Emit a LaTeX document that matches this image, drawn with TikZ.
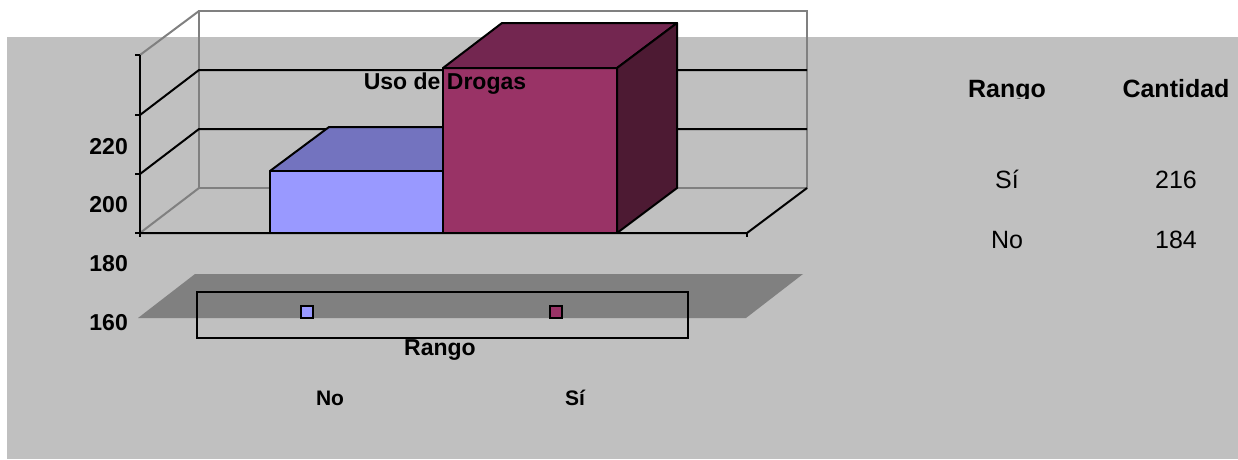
\documentclass[tikz,border=0pt]{standalone}
\usepackage{fontspec}
\setmainfont{Liberation Sans}
\definecolor{bggray}{HTML}{C0C0C0}
\definecolor{wallgray}{HTML}{808080}
\definecolor{shadegray}{HTML}{808080}
\definecolor{bluefront}{HTML}{9999FF}
\definecolor{bluetop}{HTML}{7373BF}
\definecolor{magfront}{HTML}{993366}
\definecolor{magtop}{HTML}{732650}
\definecolor{magside}{HTML}{4D1A33}
\begin{document}
\begin{tikzpicture}[x=1pt,y=-1pt,
  axisline/.style={draw=black,line width=2pt,line join=round},
  wallline/.style={draw=wallgray,line width=2pt},
  face/.style={draw=black,line width=2pt,line join=round},
  boldlbl/.style={font=\fontsize{23}{23}\selectfont\bfseries,inner sep=0pt,anchor=base},
  smalllbl/.style={font=\fontsize{21}{21}\selectfont\bfseries,inner sep=0pt,anchor=base},
  tabhead/.style={font=\fontsize{25}{25}\selectfont\bfseries,inner sep=0pt,anchor=base},
  tabcell/.style={font=\fontsize{25}{25}\selectfont,inner sep=0pt,anchor=base},
  marker/.style={draw=black,line width=1.5pt,minimum width=12pt,minimum height=12pt,inner sep=0pt}]
\useasboundingbox (0,0) rectangle (1238,459);
% background
\fill[bggray] (7,37) rectangle (1238,459);
% back wall and left wall
\draw[wallline] (199,11) rectangle (807,188);
\draw[wallline] (199,11) -- (140,55);
\draw[wallline] (199,188) -- (140,233);
% gridlines
\draw[axisline] (140,115) -- (199,70) -- (807,70);
\draw[axisline] (140,174) -- (199,129) -- (807,129);
% value axis with ticks
\draw[axisline] (140,55) -- (140,237);
\foreach \ty in {55,115,174,233} \draw[axisline] (135,\ty) -- (140,\ty);
% floor
\draw[axisline] (140,233) -- (747,233) -- (807,188);
\draw[axisline] (747,233) -- (747,237);
% blue bar (No)
\draw[face,fill=bluetop] (270,171) -- (329,127) -- (502,127) -- (443,171) -- cycle;
\draw[face,fill=bluefront] (270,171) rectangle (443,233);
% magenta bar (Si)
\draw[face,fill=magfront] (443,68) rectangle (617,233);
\draw[face,fill=magtop] (443,68) -- (502,23) -- (677,23) -- (617,68) -- cycle;
\draw[face,fill=magside] (617,68) -- (677,23) -- (677,188) -- (617,233) -- cycle;
% title
\node[boldlbl] (title) at (445,89) {Uso de Drogas};
% value labels
\node[boldlbl,anchor=base east] (v220) at (128,154) {220};
\node[boldlbl,anchor=base east] (v200) at (128,212) {200};
\node[boldlbl,anchor=base east] (v180) at (128,271) {180};
\node[boldlbl,anchor=base east] (v160) at (128,330) {160};
% legend shadow plane
\fill[shadegray] (138,318) -- (195,274) -- (803,274) -- (746,318) -- cycle;
% legend box
\draw[black,line width=2pt] (197,292) rectangle (688,338);
\node[marker,fill=bluefront] (mno) at (307,312) {};
\node[marker,fill=magfront] (msi) at (556,312) {};
\node[boldlbl] (axtitle) at (440,355) {Rango};
\node[smalllbl] (catno) at (330,405) {No};
\node[smalllbl] (catsi) at (575,405) {Sí};
% table
\begin{scope}
\clip (900,60) rectangle (1100,98);
\node[tabhead] (hrango) at (1007,97) {Rango};
\end{scope}
\node[tabhead] (hcant) at (1176,97) {Cantidad};
\node[tabcell] (rsi) at (1007,188) {Sí};
\node[tabcell] (csi) at (1176,188) {216};
\node[tabcell] (rno) at (1007,248) {No};
\node[tabcell] (cno) at (1176,248) {184};
\end{tikzpicture}
\end{document}
